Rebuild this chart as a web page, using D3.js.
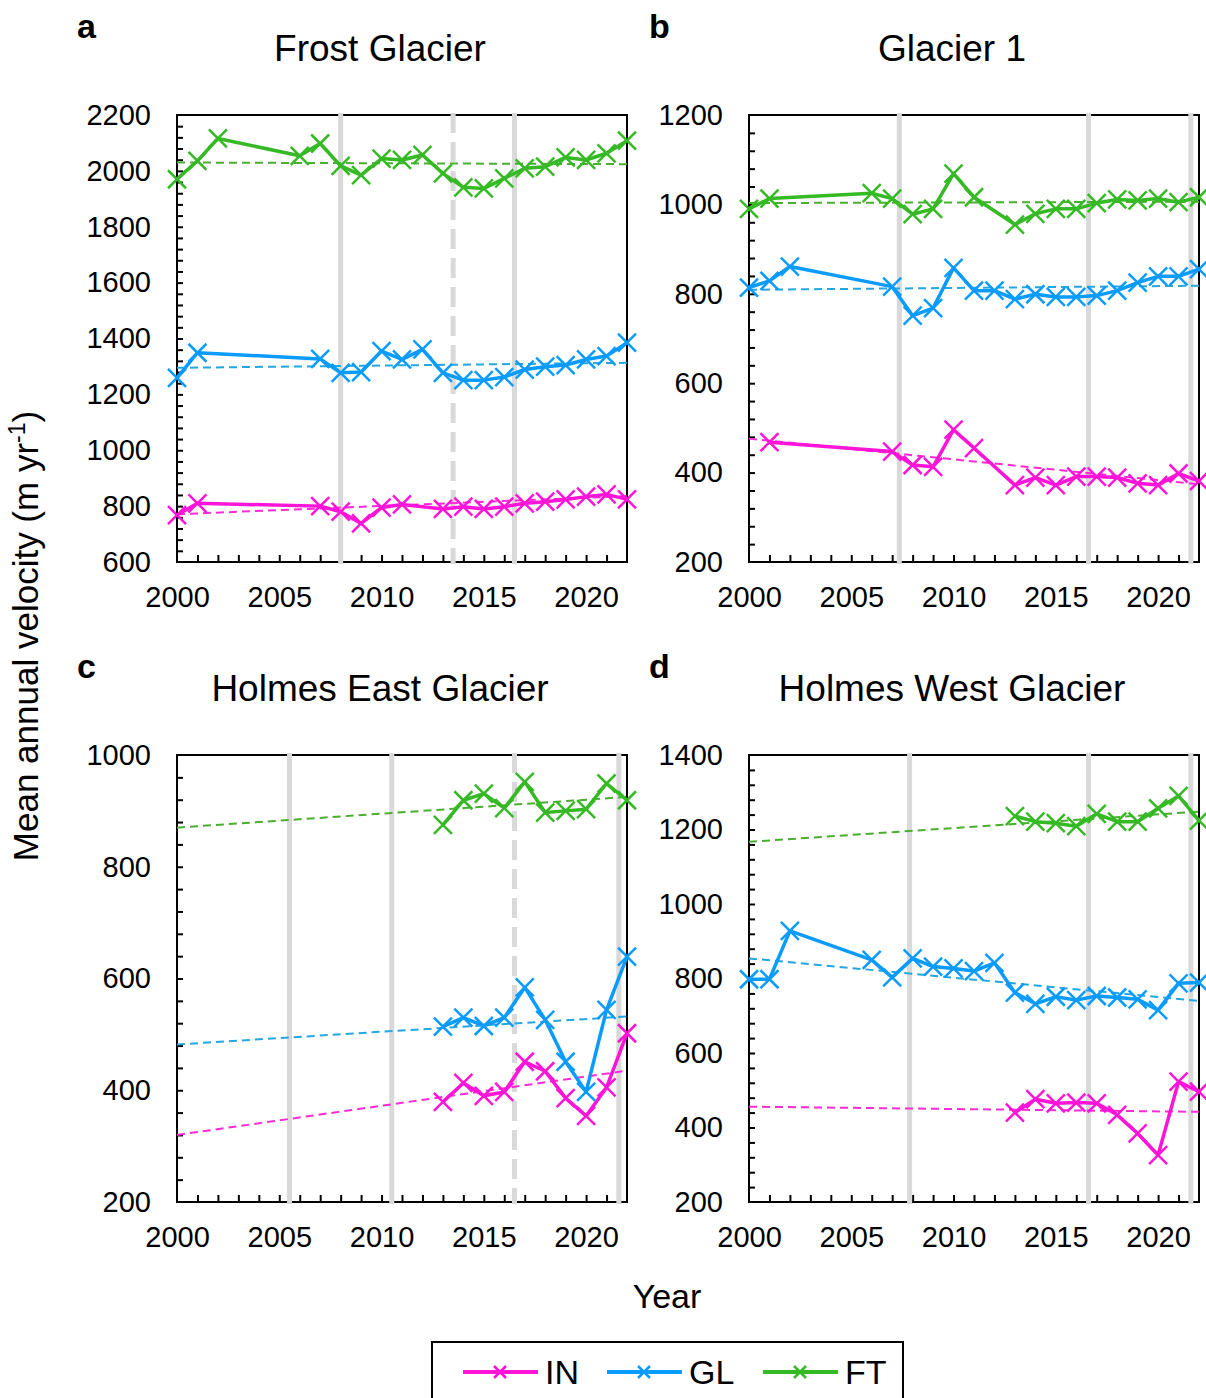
<!DOCTYPE html>
<html>
<head>
<meta charset="utf-8">
<script src="https://cdn.jsdelivr.net/npm/d3@7"></script>
<style>
  body { margin: 0; background: #fff; }
  svg { display: block; font-family: "Liberation Sans", Arial, Helvetica, sans-serif; }
</style>
</head>
<body>
<div id="chart"></div>
<script>
// ---- data ----
// a: Frost Glacier
var frostYearsIN = [2000, 2001, 2007, 2008, 2009, 2010, 2011, 2013, 2014, 2015, 2016, 2017, 2018, 2019, 2020, 2021, 2022];
var frostIN = [768, 810, 800, 780, 738, 795, 806, 790, 798, 790, 798, 810, 816, 824, 834, 842, 824];
var frostYearsGL = [2000, 2001, 2007, 2008, 2009, 2010, 2011, 2012, 2013, 2014, 2015, 2016, 2017, 2018, 2019, 2020, 2021, 2022];
var frostGL = [1259, 1349, 1327, 1277, 1280, 1355, 1325, 1361, 1277, 1251, 1251, 1262, 1289, 1299, 1305, 1325, 1337, 1385];
var frostYearsFT = [2000, 2001, 2002, 2006, 2007, 2008, 2009, 2010, 2011, 2012, 2013, 2014, 2015, 2016, 2017, 2018, 2019, 2020, 2021, 2022];
var frostFT = [1970, 2036, 2116, 2054, 2098, 2018, 1985, 2044, 2039, 2057, 1991, 1941, 1937, 1973, 2009, 2015, 2048, 2039, 2063, 2108];
var frostTrendIN = [771, 836];
var frostTrendGL = [1295, 1313];
var frostTrendFT = [2030, 2024];
var frostBars = [2008, 2016.5];
var frostDashedBars = [2013.5];

// b: Glacier 1
var g1YearsIN = [2001, 2007, 2008, 2009, 2010, 2011, 2013, 2014, 2015, 2016, 2017, 2018, 2019, 2020, 2021, 2022];
var g1IN = [468, 447, 417, 413, 496, 455, 372, 389, 372, 391, 391, 389, 376, 372, 398, 381];
var g1YearsGL = [2000, 2001, 2002, 2007, 2008, 2009, 2010, 2011, 2012, 2013, 2014, 2015, 2016, 2017, 2018, 2019, 2020, 2021, 2022];
var g1GL = [814, 829, 861, 816, 751, 768, 858, 807, 807, 788, 799, 793, 793, 796, 807, 825, 839, 839, 855];
var g1YearsFT = [2000, 2001, 2006, 2007, 2008, 2009, 2010, 2011, 2013, 2014, 2015, 2016, 2017, 2018, 2019, 2020, 2021, 2022];
var g1FT = [990, 1013, 1025, 1013, 978, 990, 1069, 1016, 955, 979, 990, 990, 1003, 1011, 1009, 1013, 1005, 1016];
var g1TrendIN = [476, 374];
var g1TrendGL = [809, 818];
var g1TrendFT = [1003, 1006];
var g1Bars = [2007.35, 2016.6, 2021.6];
var g1DashedBars = [];

// c: Holmes East Glacier
var heYears = [2013, 2014, 2015, 2016, 2017, 2018, 2019, 2020, 2021, 2022];
var heIN = [379, 413, 390, 397, 451, 434, 386, 354, 405, 502];
var heGL = [514, 530, 515, 530, 584, 526, 451, 397, 544, 639];
var heFT = [875, 919, 931, 905, 952, 897, 900, 903, 949, 919];
var heTrendIN = [320, 435];
var heTrendGL = [482, 532];
var heTrendFT = [870, 925];
var heBars = [2005.5, 2010.5, 2021.6];
var heDashedBars = [2016.5];

// d: Holmes West Glacier
var hwYearsIN = [2013, 2014, 2015, 2016, 2017, 2018, 2019, 2020, 2021, 2022];
var hwIN = [440, 476, 465, 467, 465, 434, 384, 326, 523, 496];
var hwYearsGL = [2000, 2001, 2002, 2006, 2007, 2008, 2009, 2010, 2011, 2012, 2013, 2014, 2015, 2016, 2017, 2018, 2019, 2020, 2021, 2022];
var hwGL = [798, 798, 928, 850, 803, 854, 832, 827, 820, 842, 762, 732, 751, 742, 753, 749, 744, 715, 787, 789];
var hwYearsFT = [2013, 2014, 2015, 2016, 2017, 2018, 2019, 2020, 2021, 2022];
var hwFT = [1236, 1221, 1217, 1209, 1242, 1221, 1221, 1257, 1290, 1224];
var hwTrendIN = [456, 442];
var hwTrendGL = [854, 740];
var hwTrendFT = [1167, 1248];
var hwBars = [2007.85, 2016.6, 2021.6];
var hwDashedBars = [];

// axis settings
var xTickLabels = [2000, 2005, 2010, 2015, 2020];
var seriesNames = ["IN", "GL", "FT"];

// ---- layout ----
var width = 1206, height = 1398;
var colors = { IN: "#ff14d8", GL: "#0a9bff", FT: "#35b925" };
var trendColors = { IN: "#ff2ad6", GL: "#24a6e0", FT: "#4aae2e" };
var barColor = "#d9d9d9";

var svg = d3.select("#chart")
    .append("svg")
    .attr("width", width)
    .attr("height", height);

var panels = [
  { letter: "a", title: "Frost Glacier", left: 177, top: 115, yDomain: [600, 2200],
    series: { IN: [frostYearsIN, frostIN], GL: [frostYearsGL, frostGL], FT: [frostYearsFT, frostFT] },
    trend: { IN: frostTrendIN, GL: frostTrendGL, FT: frostTrendFT },
    bars: frostBars, dashed: frostDashedBars },
  { letter: "b", title: "Glacier 1", left: 749, top: 115, yDomain: [200, 1200],
    series: { IN: [g1YearsIN, g1IN], GL: [g1YearsGL, g1GL], FT: [g1YearsFT, g1FT] },
    trend: { IN: g1TrendIN, GL: g1TrendGL, FT: g1TrendFT },
    bars: g1Bars, dashed: g1DashedBars },
  { letter: "c", title: "Holmes East Glacier", left: 177, top: 755, yDomain: [200, 1000],
    series: { IN: [heYears, heIN], GL: [heYears, heGL], FT: [heYears, heFT] },
    trend: { IN: heTrendIN, GL: heTrendGL, FT: heTrendFT },
    bars: heBars, dashed: heDashedBars },
  { letter: "d", title: "Holmes West Glacier", left: 749, top: 755, yDomain: [200, 1400],
    series: { IN: [hwYearsIN, hwIN], GL: [hwYearsGL, hwGL], FT: [hwYearsFT, hwFT] },
    trend: { IN: hwTrendIN, GL: hwTrendGL, FT: hwTrendFT },
    bars: hwBars, dashed: hwDashedBars }
];

var plotW = 450, plotH = 447;

// X marker path
function xMark(s) {
  return "M" + (-s) + "," + (-s) + "L" + s + "," + s + "M" + (-s) + "," + s + "L" + s + "," + (-s);
}

panels.forEach(function(p) {
  var g = svg.append("g").attr("transform", "translate(" + p.left + "," + p.top + ")");

  var xScale = d3.scaleLinear().domain([2000, 2022]).range([0, plotW]);
  var yScale = d3.scaleLinear().domain(p.yDomain).range([plotH, 0]);

  // panel letter and title
  svg.append("text")
      .attr("x", p.left - 100)
      .attr("y", p.top - 77)
      .attr("font-size", 34)
      .attr("font-weight", "bold")
      .text(p.letter);

  svg.append("text")
      .attr("x", p.left + plotW / 2 - 22)
      .attr("y", p.top - 54)
      .attr("text-anchor", "middle")
      .attr("font-size", 37)
      .text(p.title);

  // frame
  g.append("rect")
      .attr("width", plotW)
      .attr("height", plotH)
      .attr("fill", "none")
      .attr("stroke", "#000")
      .attr("stroke-width", 2);

  // minor ticks, pointing inward
  var minorYears = d3.range(2001, 2022);
  var xMinor = d3.axisBottom(xScale).tickValues(minorYears).tickSize(-7).tickFormat("");
  g.append("g")
      .attr("transform", "translate(0," + plotH + ")")
      .call(xMinor)
      .call(function(s) { s.select(".domain").remove(); })
      .selectAll("line").attr("stroke", "#000").attr("stroke-width", 2);

  var yMinorVals = d3.range(p.yDomain[0] + 40, p.yDomain[1], 40);
  var yMinor = d3.axisLeft(yScale).tickValues(yMinorVals).tickSize(-6).tickFormat("");
  g.append("g")
      .call(yMinor)
      .call(function(s) { s.select(".domain").remove(); })
      .selectAll("line").attr("stroke", "#000").attr("stroke-width", 2);

  // tick labels
  var xLab = d3.axisBottom(xScale).tickValues(xTickLabels).tickSize(0).tickPadding(24).tickFormat(d3.format("d"));
  g.append("g")
      .attr("transform", "translate(0," + plotH + ")")
      .call(xLab)
      .call(function(s) { s.select(".domain").remove(); })
      .selectAll("text")
      .attr("font-size", 29)
      .attr("font-family", "Liberation Sans, Arial, sans-serif")
      .attr("fill", "#000");

  var yLab = d3.axisLeft(yScale).tickValues(d3.range(p.yDomain[0], p.yDomain[1] + 1, 200)).tickSize(0).tickPadding(26).tickFormat(d3.format("d"));
  g.append("g")
      .call(yLab)
      .call(function(s) { s.select(".domain").remove(); })
      .selectAll("text")
      .attr("font-size", 29)
      .attr("font-family", "Liberation Sans, Arial, sans-serif")
      .attr("fill", "#000");

  // grey event bars
  g.selectAll(".bar").data(p.bars).enter()
      .append("line")
      .attr("x1", function(d) { return xScale(d); })
      .attr("x2", function(d) { return xScale(d); })
      .attr("y1", -2)
      .attr("y2", plotH + 2)
      .attr("stroke", barColor)
      .attr("stroke-width", 5);

  g.selectAll(".dbar").data(p.dashed).enter()
      .append("line")
      .attr("x1", function(d) { return xScale(d); })
      .attr("x2", function(d) { return xScale(d); })
      .attr("y1", -2)
      .attr("y2", plotH + 2)
      .attr("stroke", barColor)
      .attr("stroke-width", 5)
      .attr("stroke-dasharray", "20,9");

  // trend lines
  seriesNames.forEach(function(name) {
    var t = p.trend[name];
    g.append("line")
        .attr("x1", xScale(2000))
        .attr("y1", yScale(t[0]))
        .attr("x2", xScale(2022))
        .attr("y2", yScale(t[1]))
        .attr("stroke", trendColors[name])
        .attr("stroke-width", 2)
        .attr("stroke-dasharray", "8,5");
  });

  // series lines and markers
  var line = d3.line()
      .x(function(d) { return xScale(d[0]); })
      .y(function(d) { return yScale(d[1]); });

  seriesNames.forEach(function(name) {
    var yrs = p.series[name][0];
    var vals = p.series[name][1];
    var pts = yrs.map(function(y, i) { return [y, vals[i]]; });

    g.append("path")
        .datum(pts)
        .attr("d", line)
        .attr("fill", "none")
        .attr("stroke", colors[name])
        .attr("stroke-width", 3.5)
        .attr("stroke-linejoin", "round");

    g.selectAll(".m" + name).data(pts).enter()
        .append("path")
        .attr("transform", function(d) { return "translate(" + xScale(d[0]) + "," + yScale(d[1]) + ")"; })
        .attr("d", xMark(9))
        .attr("stroke", colors[name])
        .attr("stroke-width", 2.5)
        .attr("fill", "none");
  });
});

// axis titles
svg.append("text")
    .attr("transform", "translate(38,636)rotate(-90)")
    .attr("text-anchor", "middle")
    .attr("font-size", 35)
    .call(function(t) {
      t.append("tspan").text("Mean annual velocity (m yr");
      t.append("tspan").attr("dy", -13).attr("font-size", 23).text("-1");
      t.append("tspan").attr("dy", 13).text(")");
    });

svg.append("text")
    .attr("x", 667)
    .attr("y", 1308)
    .attr("text-anchor", "middle")
    .attr("font-size", 34)
    .text("Year");

// legend
var legend = svg.append("g");
legend.append("rect")
    .attr("x", 432)
    .attr("y", 1342)
    .attr("width", 471)
    .attr("height", 80)
    .attr("fill", "#fff")
    .attr("stroke", "#000")
    .attr("stroke-width", 2);

var legendX = [463, 607, 763];
seriesNames.forEach(function(name, i) {
  var x0 = legendX[i];
  legend.append("line")
      .attr("x1", x0).attr("x2", x0 + 75)
      .attr("y1", 1372).attr("y2", 1372)
      .attr("stroke", colors[name])
      .attr("stroke-width", 4);
  legend.append("path")
      .attr("transform", "translate(" + (x0 + 37) + ",1372)")
      .attr("d", xMark(6))
      .attr("stroke", colors[name])
      .attr("stroke-width", 2.5);
  legend.append("text")
      .attr("x", x0 + 82)
      .attr("y", 1384)
      .attr("font-size", 34)
      .text(name);
});
</script>
</body>
</html>
